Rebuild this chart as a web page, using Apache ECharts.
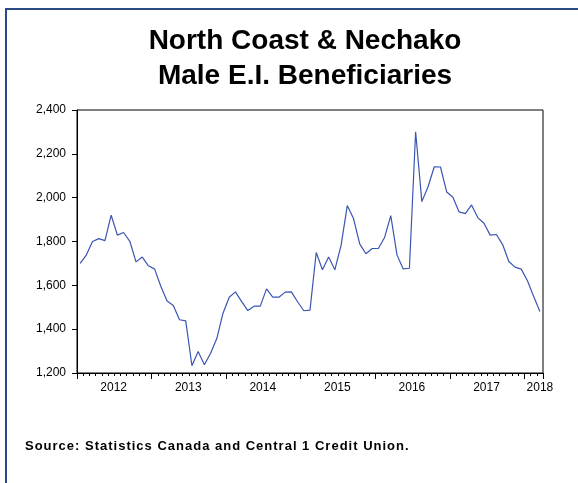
<!DOCTYPE html>
<html>
<head>
<meta charset="utf-8">
<title>North Coast & Nechako Male E.I. Beneficiaries</title>
<script src="https://cdn.jsdelivr.net/npm/echarts@6/dist/echarts.min.js"></script>
<style>
  html, body {
    margin: 0;
    padding: 0;
    background: #fff;
  }
  .chart-all {
    position: relative;
    width: 578px;
    height: 483px;
    overflow: hidden;
  }
  #eiChart {
    width: 100%;
    height: 100%;
  }
  /* blue frame, only top and left edges show in the picture */
  .frame {
    position: absolute;
    left: 5px;
    top: 8px;
    width: 700px;
    height: 600px;
    border-top: 2px solid #2a4a86;
    border-left: 2px solid #2a4a86;
    pointer-events: none;
  }
  .source {
    position: absolute;
    left: 25px;
    top: 438px;
    font: bold 13px "Liberation Sans", Arial, sans-serif;
    line-height: 16px;
    letter-spacing: 1px;
    color: #000;
    white-space: nowrap;
  }
</style>
</head>
<body>
<div class="chart-all">
  <div id="eiChart"></div>
  <div class="frame"></div>
  <div class="source">Source: Statistics Canada and Central 1 Credit Union.</div>
</div>

<script>
// monthly data, Jan 2012 .. Mar 2018
var startYear = 2012;
var beneficiaries = [
  1700, 1738, 1800, 1813, 1804, 1920, 1829, 1841, 1801, 1707, 1729, 1689, // 2012
  1674, 1595, 1529, 1508, 1443, 1438, 1233, 1298, 1238, 1290, 1357, 1473, // 2013
  1546, 1570, 1526, 1485, 1505, 1505, 1584, 1546, 1546, 1569, 1570, 1525, // 2014
  1484, 1487, 1750, 1671, 1729, 1671, 1782, 1964, 1905, 1789, 1744, 1768, // 2015
  1768, 1818, 1918, 1739, 1675, 1678, 2301, 1982, 2050, 2141, 2140, 2026, // 2016
  2002, 1935, 1927, 1967, 1909, 1883, 1829, 1832, 1786, 1709, 1683, 1674, // 2017
  1621, 1549, 1481                                                         // 2018
];
var yearLabels = ["2012", "2013", "2014", "2015", "2016", "2017", "2018"];
var yTicks = [1200, 1400, 1600, 1800, 2000, 2200, 2400];

// category per month, e.g. 2012M01
var months = [];
for (var i = 0; i < beneficiaries.length; i++) {
  var y = startYear + Math.floor(i / 12);
  var m = (i % 12) + 1;
  months.push(y + "M" + (m < 10 ? "0" + m : m));
}

// year label sits mid year, last (short) year sits on its last month
function labelIndex(k) {
  var idx = k * 12 + 5;
  return idx < months.length ? idx : months.length - 1;
}
var labelAt = {};
yearLabels.forEach(function (yr, k) {
  labelAt[labelIndex(k)] = yr;
});

var font = '"Liberation Sans", Arial, sans-serif';

var chart = echarts.init(document.getElementById("eiChart"), null, { renderer: "canvas" });

var option = {
  animation: false,
  backgroundColor: "transparent",
  grid: {
    left: 77,
    right: 35,
    top: 110,
    bottom: 110,
    show: true,
    borderColor: "#000",
    borderWidth: 1,
    backgroundColor: "transparent"
  },
  graphic: [
    {
      type: "text",
      x: 305,
      y: 41,
      style: {
        text: "North Coast & Nechako",
        font: "bold 28px " + font,
        fill: "#000",
        align: "center",
        verticalAlign: "middle"
      }
    },
    {
      type: "text",
      x: 305,
      y: 76,
      style: {
        text: "Male E.I. Beneficiaries",
        font: "bold 28px " + font,
        fill: "#000",
        align: "center",
        verticalAlign: "middle"
      }
    }
  ],
  xAxis: [
    {
      // months, short ticks at every month boundary + year labels
      type: "category",
      data: months,
      boundaryGap: true,
      axisLine: { show: true, lineStyle: { color: "#000", width: 1 } },
      axisTick: {
        show: true,
        interval: 0,
        length: 3,
        lineStyle: { color: "#000", width: 1 }
      },
      axisLabel: {
        show: true,
        interval: function (index) {
          return labelAt[index] !== undefined;
        },
        formatter: function (value, index) {
          var txt = labelAt[index];
          if (txt === undefined) return "";
          return index === months.length - 1 ? "{e|" + txt + "}" : "{m|" + txt + "}";
        },
        margin: 9,
        color: "#000",
        fontFamily: font,
        fontSize: 12,
        hideOverlap: false,
        rich: {
          m: { fontFamily: font, fontSize: 12, color: "#000", padding: [0, 0, 0, 5] },
          e: { fontFamily: font, fontSize: 12, color: "#000" }
        }
      },
      splitLine: { show: false }
    },
    {
      // longer ticks on year boundaries
      type: "value",
      position: "bottom",
      min: 0,
      max: months.length,
      interval: 12,
      axisLine: { show: false },
      axisTick: { show: true, length: 6, lineStyle: { color: "#000", width: 1 } },
      axisLabel: { show: false },
      splitLine: { show: false }
    }
  ],
  yAxis: {
    type: "value",
    min: yTicks[0],
    max: yTicks[yTicks.length - 1],
    interval: yTicks[1] - yTicks[0],
    axisLine: { show: true, lineStyle: { color: "#000", width: 1 } },
    axisTick: { show: true, length: 5, lineStyle: { color: "#000", width: 1 } },
    axisLabel: {
      color: "#000",
      fontFamily: font,
      fontSize: 12,
      margin: 11,
      formatter: function (val) {
        return val.toLocaleString("en-US");
      }
    },
    splitLine: { show: false }
  },
  series: [
    {
      type: "line",
      xAxisIndex: 0,
      data: beneficiaries,
      showSymbol: false,
      symbol: "none",
      lineStyle: { color: "#3a56b4", width: 1.2 },
      itemStyle: { color: "#3a56b4" }
    }
  ]
};

chart.setOption(option);
</script>
</body>
</html>
